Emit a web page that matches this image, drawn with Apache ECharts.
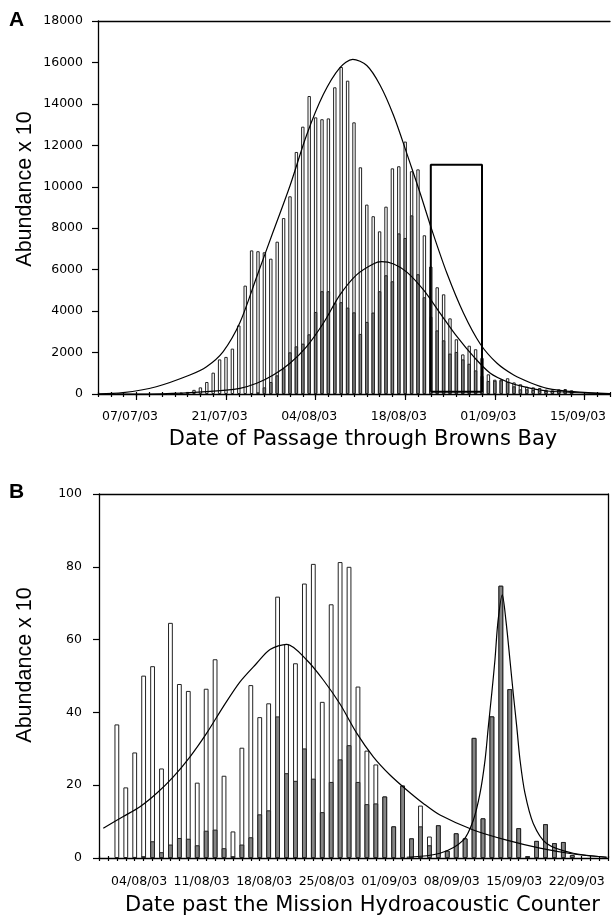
<!DOCTYPE html>
<html><head><meta charset="utf-8">
<script src="https://cdn.jsdelivr.net/npm/echarts@6/dist/echarts.min.js"></script>
<style>html,body{margin:0;padding:0;background:#fff}#c{width:613px;height:919px}</style>
</head><body><div id="c"></div>
<script>
// ---------- Panel A (day 0 = 02/07/03) ----------
const aTickLabels = ['07/07/03', '21/07/03', '04/08/03', '18/08/03', '01/09/03', '15/09/03'];
const aLabelDays = [5, 19, 33, 47, 61, 75];
const aMajorTicks = [6, 20, 34, 48, 62, 76];
const aMinorTicks = [0,2,4,6,8,10,12,14,16,18,20,22,24,26,28,30,32,34,36,38,40,42,44,46,48,50,52,54,56,58,60,62,64,66,68,70,72,74,76,78,80];
const aTotal = ['-','-','-','-','-','-','-','-','-','-','-',20,50,70,100,200,320,580,1030,1670,
  1790,2190,3310,5230,6930,6890,6840,6530,7350,8490,9540,11680,12900,14380,13350,13260,13300,14800,15780,15120,
  13110,10940,9140,8580,7850,9040,10890,10990,12180,10750,10840,7660,6150,5150,4810,3650,2640,1910,2330,2160,
  1740,950,690,700,760,560,470,350,320,290,210,180,225,240,180,'-','-','-','-','-'];
const aSub = ['-','-','-','-','-','-','-','-','-','-','-','-','-','-','-','-','-','-','-','-',
  '-','-','-','-',40,80,320,580,900,1240,2010,2300,2430,2880,3960,4960,4960,4380,4430,4170,
  3940,2900,3480,3930,4960,5730,5440,7750,7530,8620,5780,4670,3730,3070,2590,1950,2030,1670,1460,1140,
  870,630,640,660,580,370,225,225,190,160,145,145,190,190,145,'-','-','-','-','-'];
const aFitTotal = [[0,5],[3.9,63],[9.1,352],[14.35,917],[16.96,1317],[19.56,2050],[22.18,3450],[24.79,5650],
  [27.39,7850],[30.0,10050],[32.6,12500],[35.2,14450],[37.8,15750],[39.8,16150],[42.0,15850],
  [44.08,14900],[46.17,13450],[48.26,11600],[50.34,9686],[52.17,7915],[54.52,5825],[57.12,3895],[59.73,2413],
  [62.35,1482],[64.95,917],[67.56,545],[70.17,275],[74.3,111],[80,20]];
const aFitSub = [[3,0],[10,10],[16.96,111],[22.18,275],[24.79,516],[27.39,917],[30.0,1482],[32.6,2283],
  [35.2,3412],[37.8,4780],[40.4,5750],[43.0,6274],[44.3,6385],[46.2,6274],[48.26,5880],
  [50.86,5019],[53.47,3895],[56.1,2765],[58.7,1800],[61.3,999],[63.9,594],[66.5,352],[70.2,145],[80,10]];
const aBox = [[52,110],[52,11065],[60,11065],[60,110],[52,110]];

// ---------- Panel B (day 0 = 31/07/03) ----------
const bTickLabels = ['04/08/03', '11/08/03', '18/08/03', '25/08/03', '01/09/03', '08/09/03', '15/09/03', '22/09/03'];
const bLabelDays = [4.5, 11.5, 18.5, 25.5, 32.5, 39.5, 46.5, 53.5];
const bTicks = [0,1,2,3,4,5,6,7,8,9,10,11,12,13,14,15,16,17,18,19,20,21,22,23,24,25,26,27,28,29,30,
  31,32,33,34,35,36,37,38,39,40,41,42,43,44,45,46,47,48,49,50,51,52,53,54,55,56,57];
const bTotal = ['-','-',36.7,19.4,29.0,50.1,52.7,24.6,64.6,47.8,45.9,20.7,46.5,54.6,22.6,7.3,30.3,47.5,38.7,42.5,
  71.8,58.8,53.5,75.4,80.8,42.9,69.7,81.3,80.0,47.1,29.5,25.7,16.9,8.7,19.9,5.4,14.4,5.9,9.0,2.0,
  6.8,5.4,33.0,10.9,38.9,74.8,46.4,8.2,0.5,4.7,9.3,4.1,4.4,0.8,'-','-','-'];
const bSub = ['-','-','-','-',0.3,0.5,4.6,1.6,3.7,5.5,5.3,3.5,7.5,7.8,2.7,0.5,3.7,5.7,12.0,13.1,
  38.9,23.3,21.2,30.1,21.8,12.6,20.9,27.1,31.0,20.9,14.8,15.0,16.9,8.7,19.9,5.4,8.7,3.5,9.0,2.0,
  6.8,5.4,33.0,10.9,38.9,74.8,46.4,8.2,0.5,4.7,9.3,4.1,4.4,0.8,'-','-','-'];
const bFitEarly = [[0.48,8.2],[2.72,11.4],[4.59,14.1],[6.46,17.8],[8.32,22.3],[10.19,27.8],[12.06,34.3],
  [13.92,41.6],[15.79,48.4],[17.66,53.5],[19.15,57.3],[21.02,58.7],[23.26,54.4],[25.12,48.9],[26.99,42.3],
  [28.86,34.3],[30.72,27.8],[32.59,22.8],[34.46,18.7],[36.32,15.0],[38.19,11.8],[41.92,7.7],[45.66,4.9],
  [49.38,2.7],[53.11,1.1],[56.85,0.2]];
const bFitLate = [[34.46,0.2],[38.19,1.3],[40.8,4.9],[41.92,10.4],[42.67,17.8],[43.23,26.9],[43.6,36.1],
  [43.98,45.2],[44.34,54.4],[44.68,65],[45.16,72.3],[45.58,65],[46.02,54.4],[46.39,45.2],[46.78,36.1],
  [47.15,26.9],[47.7,17.8],[48.63,9.5],[50.13,4.0],[53.11,1.3],[56.85,0.2]];

const black = '#000';
const lbl = {fontFamily: 'DejaVu Sans', fontSize: 12.5, color: black};
const axLine = {show: true, onZero: false, lineStyle: {color: black, width: 1.3}};
const noLine = {show: false};
const tickStyle = {color: black, width: 1.2};
const plain = v => String(v);
const labelFrom = (days, labels) => v => { const k = days.indexOf(v); return k >= 0 ? labels[k] : ''; };
const pairs = arr => arr.map((v, i) => [i, v]).filter(p => p[1] !== '-');
const curve = data => ({type: 'line', data: data, smooth: 0.3, symbol: 'none',
  lineStyle: {color: black, width: 1.2}});
const bar = (data, fill, w, xi, yi) => ({type: 'bar', xAxisIndex: xi, yAxisIndex: yi, data: pairs(data),
  barWidth: w, barGap: '-100%', itemStyle: {color: fill, borderColor: '#222', borderWidth: 1}});

function xval(grid, max, extra) {
  return Object.assign({gridIndex: grid, type: 'value', min: 0, max: max, position: 'bottom',
    splitLine: {show: false}, axisLine: noLine, axisTick: {show: false}, axisLabel: {show: false}}, extra);
}

const chart = echarts.init(document.getElementById('c'), null, {renderer: 'canvas'});
chart.setOption({
  animation: false,
  backgroundColor: '#fff',
  grid: [
    {left: 98, right: 3, top: 21, bottom: 525},
    {left: 99, right: 5, top: 494, bottom: 61}
  ],
  xAxis: [
    xval(0, 80, {axisLine: axLine,
      axisTick: {show: true, customValues: aMinorTicks, length: 3, lineStyle: tickStyle},
      axisLabel: Object.assign({show: true, customValues: aLabelDays, margin: 16,
        formatter: labelFrom(aLabelDays, aTickLabels)}, lbl)}),
    xval(0, 80, {axisTick: {show: true, customValues: aMinorTicks, inside: true, length: 2, lineStyle: tickStyle}}),
    xval(0, 80, {axisTick: {show: true, customValues: aMajorTicks, length: 6, lineStyle: tickStyle}}),
    xval(0, 80, {position: 'top', axisLine: axLine}),
    xval(1, 57, {axisLine: axLine,
      axisTick: {show: true, customValues: bTicks, length: 3, lineStyle: tickStyle},
      axisLabel: Object.assign({show: true, customValues: bLabelDays, margin: 17,
        formatter: labelFrom(bLabelDays, bTickLabels)}, lbl)}),
    xval(1, 57, {axisTick: {show: true, customValues: bTicks, inside: true, length: 2, lineStyle: tickStyle}}),
    xval(1, 57, {position: 'top', axisLine: axLine})
  ],
  yAxis: [
    {gridIndex: 0, type: 'value', min: 0, max: 18000, interval: 2000, axisLine: axLine,
     axisTick: {show: true, length: 6, lineStyle: tickStyle}, splitLine: {show: false},
     axisLabel: Object.assign({margin: 15, formatter: plain}, lbl)},
    {gridIndex: 1, type: 'value', min: 0, max: 100, interval: 20, axisLine: axLine,
     axisTick: {show: true, length: 6, lineStyle: tickStyle}, splitLine: {show: false},
     axisLabel: Object.assign({margin: 17, formatter: plain}, lbl)},
    {gridIndex: 1, type: 'value', min: 0, max: 100, position: 'right', axisLine: axLine,
     axisTick: {show: false}, axisLabel: {show: false}, splitLine: {show: false}}
  ],
  series: [
    bar(aTotal, '#fff', 3.4, 0, 0),
    bar(aSub, '#858585', 3.4, 0, 0),
    Object.assign(curve(aFitTotal), {xAxisIndex: 0, yAxisIndex: 0}),
    Object.assign(curve(aFitSub), {xAxisIndex: 0, yAxisIndex: 0}),
    {type: 'line', xAxisIndex: 0, yAxisIndex: 0, data: aBox, symbol: 'none',
     lineStyle: {color: black, width: 2}, z: 5},
    bar(bTotal, '#fff', 4.8, 4, 1),
    bar(bSub, '#858585', 4.8, 4, 1),
    Object.assign(curve(bFitEarly), {xAxisIndex: 4, yAxisIndex: 1}),
    Object.assign(curve(bFitLate), {xAxisIndex: 4, yAxisIndex: 1})
  ],
  graphic: [
    {type: 'text', left: 9, top: 10, style: {text: 'A', font: 'bold 21px "Liberation Sans"', fill: black}},
    {type: 'text', left: 9, top: 482, style: {text: 'B', font: 'bold 21px "Liberation Sans"', fill: black}},
    {type: 'text', x: 25, y: 189, rotation: Math.PI / 2,
     style: {text: 'Abundance x 10', font: '21.5px "Liberation Sans"', fill: black, align: 'center', verticalAlign: 'middle'}},
    {type: 'text', x: 25, y: 665, rotation: Math.PI / 2,
     style: {text: 'Abundance x 10', font: '21.5px "Liberation Sans"', fill: black, align: 'center', verticalAlign: 'middle'}},
    {type: 'text', x: 363, y: 440,
     style: {text: 'Date of Passage through Browns Bay', font: '21px "DejaVu Sans"', fill: black, align: 'center', verticalAlign: 'middle'}},
    {type: 'text', x: 362.5, y: 906,
     style: {text: 'Date past the Mission Hydroacoustic Counter', font: '21px "DejaVu Sans"', fill: black, align: 'center', verticalAlign: 'middle'}}
  ]
});
</script></body></html>
